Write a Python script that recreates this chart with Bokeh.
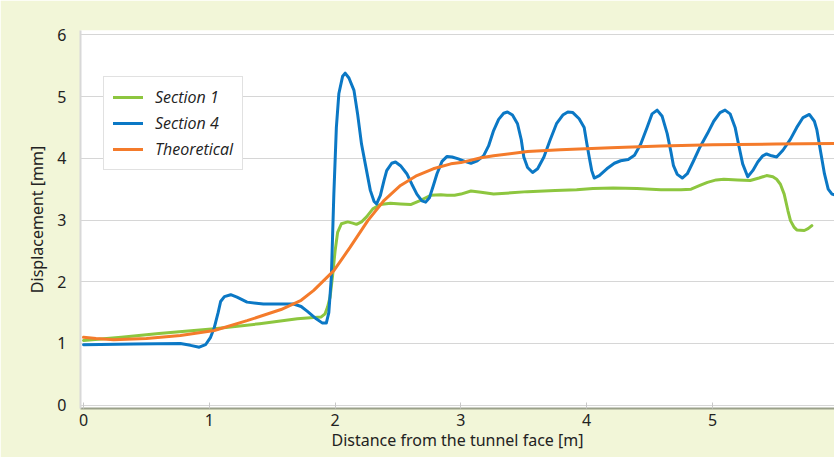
from bokeh.plotting import figure
from bokeh.models import Range1d, FixedTicker, Legend, LegendItem
from bokeh.embed import file_html
from bokeh.resources import INLINE

# ---- data ----
sec1_x = [0.00, 0.30, 0.60, 1.04, 1.40, 1.70, 1.83, 1.89, 1.92, 1.94, 1.96, 1.98, 2.00, 2.02, 2.05,
          2.10, 2.14, 2.17, 2.21, 2.25, 2.30, 2.36, 2.44, 2.52, 2.60, 2.68, 2.76, 2.84, 2.89, 2.95,
          3.00, 3.08, 3.16, 3.26, 3.40, 3.53, 3.75, 3.92, 4.05, 4.21, 4.40, 4.59, 4.75, 4.83, 4.90,
          4.96, 5.03, 5.09, 5.20, 5.30, 5.37, 5.43, 5.48, 5.51, 5.54, 5.57, 5.60, 5.62, 5.65, 5.67,
          5.73, 5.76, 5.79]
sec1_y = [1.05, 1.10, 1.16, 1.24, 1.32, 1.40, 1.42, 1.43, 1.48, 1.59, 1.75, 2.10, 2.50, 2.80, 2.94,
          2.97, 2.95, 2.93, 2.97, 3.05, 3.18, 3.25, 3.27, 3.26, 3.25, 3.32, 3.40, 3.41, 3.40, 3.40,
          3.42, 3.47, 3.45, 3.42, 3.44, 3.46, 3.48, 3.49, 3.51, 3.52, 3.51, 3.49, 3.49, 3.50, 3.56,
          3.61, 3.65, 3.66, 3.65, 3.64, 3.68, 3.72, 3.70, 3.66, 3.58, 3.42, 3.15, 2.99, 2.88, 2.84,
          2.83, 2.86, 2.91]

sec4_x = [0.00, 0.40, 0.77, 0.85, 0.92, 0.97, 1.01, 1.04, 1.07, 1.09, 1.12, 1.17, 1.22, 1.30, 1.43,
          1.67, 1.73, 1.78, 1.85, 1.90, 1.93, 1.95, 1.97, 1.99, 2.01, 2.03, 2.06, 2.08, 2.11, 2.15,
          2.18, 2.21, 2.25, 2.28, 2.31, 2.33, 2.36, 2.39, 2.41, 2.45, 2.48, 2.52, 2.57, 2.61, 2.65,
          2.69, 2.72, 2.75, 2.78, 2.81, 2.85, 2.89, 2.93, 2.98, 3.03, 3.08, 3.13, 3.18, 3.22, 3.26,
          3.30, 3.34, 3.37, 3.41, 3.45, 3.48, 3.50, 3.53, 3.57, 3.61, 3.66, 3.71, 3.76, 3.81, 3.85,
          3.89, 3.94, 3.98, 4.00, 4.02, 4.04, 4.06, 4.10, 4.16, 4.22, 4.27, 4.33, 4.38, 4.43, 4.48,
          4.52, 4.56, 4.60, 4.64, 4.67, 4.69, 4.72, 4.76, 4.80, 4.85, 4.90, 4.96, 5.01, 5.06, 5.10,
          5.14, 5.18, 5.21, 5.24, 5.28, 5.32, 5.36, 5.40, 5.43, 5.47, 5.51, 5.56, 5.62, 5.67, 5.72,
          5.77, 5.81, 5.83, 5.86, 5.89, 5.92, 5.95, 5.97]
sec4_y = [0.98, 0.99, 1.00, 0.97, 0.94, 0.98, 1.10, 1.26, 1.50, 1.68, 1.76, 1.79, 1.75, 1.67, 1.64,
          1.64, 1.60, 1.52, 1.40, 1.33, 1.33, 1.50, 2.07, 3.42, 4.50, 5.05, 5.33, 5.38, 5.30, 5.10,
          4.70, 4.23, 3.80, 3.48, 3.30, 3.26, 3.40, 3.65, 3.80, 3.92, 3.94, 3.88, 3.75, 3.58, 3.42,
          3.31, 3.29, 3.36, 3.55, 3.75, 3.95, 4.03, 4.02, 3.99, 3.95, 3.92, 3.96, 4.04, 4.20, 4.45,
          4.63, 4.73, 4.75, 4.70, 4.56, 4.30, 4.02, 3.85, 3.77, 3.83, 4.02, 4.30, 4.56, 4.70, 4.75,
          4.74, 4.64, 4.50, 4.25, 4.02, 3.80, 3.68, 3.72, 3.83, 3.92, 3.96, 3.98, 4.05, 4.23, 4.50,
          4.72, 4.78, 4.68, 4.40, 4.10, 3.88, 3.74, 3.68, 3.75, 3.96, 4.18, 4.40, 4.60, 4.74, 4.78,
          4.72, 4.50, 4.20, 3.91, 3.70, 3.80, 3.94, 4.04, 4.07, 4.04, 4.02, 4.13, 4.31, 4.50, 4.66,
          4.71, 4.60, 4.46, 4.10, 3.75, 3.50, 3.42, 3.41]

theo_x = [0.00, 0.10, 0.24, 0.50, 0.77, 1.04, 1.30, 1.57, 1.73, 1.83, 1.99, 2.12, 2.26, 2.39, 2.52,
          2.65, 2.78, 2.92, 3.00, 3.16, 3.26, 3.53, 3.79, 4.19, 4.59, 5.00, 5.50, 5.97]
theo_y = [1.10, 1.08, 1.06, 1.08, 1.13, 1.21, 1.37, 1.55, 1.70, 1.86, 2.18, 2.56, 2.99, 3.32, 3.56,
          3.72, 3.83, 3.91, 3.93, 4.01, 4.04, 4.11, 4.14, 4.17, 4.20, 4.22, 4.23, 4.24]

x_ticks = [0, 1, 2, 3, 4, 5]
y_ticks = [0, 1, 2, 3, 4, 5, 6]
series_names = ["Section 1", "Section 4", "Theoretical"]

FONT = "Noto Sans"
BG = "#f2f6d8"

p = figure(width=834, height=457,
           x_range=Range1d(-0.024, 5.97), y_range=Range1d(-0.053, 6.07),
           output_backend="svg", toolbar_location=None,
           min_border_left=80, min_border_right=0, min_border_top=30, min_border_bottom=49)

p.background_fill_color = "white"
p.border_fill_color = BG
p.outline_line_color = None

# axes
p.xaxis.ticker = FixedTicker(ticks=x_ticks)
p.yaxis.ticker = FixedTicker(ticks=y_ticks)
for ax in (p.xaxis[0], p.yaxis[0]):
    ax.major_label_text_font = FONT
    ax.major_label_text_font_size = "16px"
    ax.major_label_text_color = "#222222"
    ax.axis_label_text_font = FONT
    ax.axis_label_text_font_size = "16px"
    ax.axis_label_text_font_style = "normal"
    ax.axis_label_text_color = "#222222"
    ax.minor_tick_line_color = None

p.xaxis.axis_label = "Distance from the tunnel face [m]"
p.yaxis.axis_label = "Displacement [mm]"

p.xaxis.axis_line_color = "#9aa08a"
p.xaxis.axis_line_width = 2
p.xaxis.major_tick_in = 6
p.xaxis.major_tick_out = 0
p.xaxis.major_tick_line_color = "#c8c8c8"
p.xaxis.major_label_standoff = 5
p.xaxis.axis_label_standoff = 0

p.yaxis.axis_line_color = "#d8d8d8"
p.yaxis.axis_line_width = 2
p.yaxis.major_tick_line_color = None
p.yaxis.major_label_standoff = 8
p.yaxis.axis_label_standoff = 6

p.xgrid.grid_line_color = None
p.ygrid.grid_line_color = "#d6d6d6"
p.ygrid.grid_line_width = 1

r1 = p.line(sec1_x, sec1_y, line_color="#8dc63f", line_width=3, line_join="round", line_cap="round")
r4 = p.line(sec4_x, sec4_y, line_color="#0b78c5", line_width=3, line_join="round", line_cap="round")
rt = p.line(theo_x, theo_y, line_color="#f47b2b", line_width=3, line_join="round", line_cap="round")

legend = Legend(items=[LegendItem(label=series_names[0], renderers=[r1]),
                       LegendItem(label=series_names[1], renderers=[r4]),
                       LegendItem(label=series_names[2], renderers=[rt])],
                location=(23, 238))
legend.label_text_font = "Open Sans"
legend.label_text_font_style = "italic"
legend.label_text_font_size = "16px"
legend.label_text_color = "#222222"
legend.padding = 9
legend.spacing = 4
legend.label_height = 18
legend.glyph_height = 18
legend.glyph_width = 30
legend.label_standoff = 12
legend.margin = 0
legend.border_line_color = "#c4c4c4"
legend.border_line_width = 1
legend.background_fill_color = "white"
legend.background_fill_alpha = 1
p.add_layout(legend, "center")

open("out.html", "w").write(file_html(p, INLINE))
